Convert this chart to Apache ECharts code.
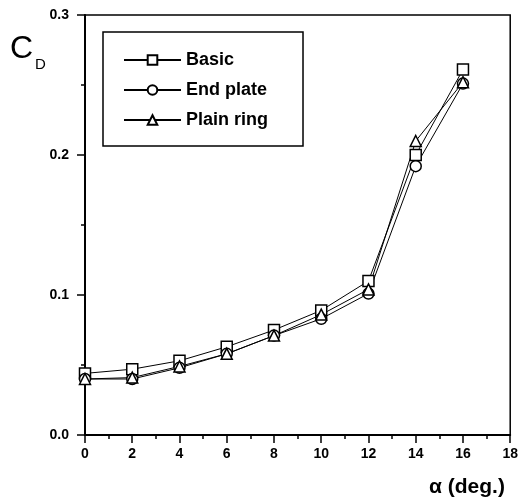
<!DOCTYPE html>
<html>
<head>
<meta charset="utf-8">
<script src="https://cdn.jsdelivr.net/npm/echarts@6/dist/echarts.min.js"></script>
<style>
html, body { margin: 0; padding: 0; background: #fff; }
#chart { width: 521px; height: 501px; }
</style>
</head>
<body>
<div id="chart"></div>
<script>
// angle of attack (deg.)
const alpha = [0, 2, 4, 6, 8, 10, 12, 14, 16];
// drag coefficient per configuration
const basic     = [0.044, 0.047, 0.053, 0.063, 0.075, 0.089, 0.110, 0.200, 0.261];
const endPlate  = [0.040, 0.040, 0.048, 0.058, 0.071, 0.083, 0.101, 0.192, 0.251];
const plainRing = [0.040, 0.041, 0.049, 0.058, 0.071, 0.086, 0.104, 0.210, 0.252];
const seriesNames = ['Basic', 'End plate', 'Plain ring'];

const font = 'Liberation Sans, Arial, sans-serif';

function pairs (ys) {
    return alpha.map((a, i) => [a, ys[i]]);
}

function makeSeries (name, ys, symbol) {
    return {
        name: name,
        type: 'line',
        data: pairs(ys),
        symbol: symbol,
        symbolSize: 11,
        showSymbol: true,
        lineStyle: { color: '#000', width: 1 },
        itemStyle: { color: '#fff', borderColor: '#000', borderWidth: 1.5 },
        emphasis: { disabled: true },
        animation: false
    };
}

const chart = echarts.init(document.getElementById('chart'));
const option = {
    backgroundColor: '#fff',
    grid: {
        left: 85, right: 9, top: 15, bottom: 66,
        show: true,
        borderColor: '#000',
        borderWidth: 1.5
    },
    legend: {
        left: 103, top: 32,
        orient: 'vertical',
        data: seriesNames,
        itemWidth: 57,
        itemHeight: 12,
        itemGap: 12,
        padding: [19, 35, 17, 20],
        borderColor: '#000',
        borderWidth: 1.5,
        textStyle: { color: '#000', fontFamily: font, fontSize: 18, fontWeight: 'bold' }
    },
    xAxis: {
        type: 'value',
        min: 0, max: 18, interval: 2,
        axisLine: { lineStyle: { color: '#000', width: 2 } },
        axisTick: { inside: false, length: 8, lineStyle: { color: '#000', width: 1.5 } },
        minorTick: { show: true, splitNumber: 2, length: 4, lineStyle: { color: '#000', width: 1.5 } },
        splitLine: { show: false },
        axisLabel: { color: '#000', fontFamily: font, fontSize: 14, fontWeight: 'bold', margin: 12 }
    },
    yAxis: {
        type: 'value',
        min: 0, max: 0.3, interval: 0.1,
        axisLine: { show: true, lineStyle: { color: '#000', width: 2 } },
        axisTick: { show: true, inside: false, length: 8, lineStyle: { color: '#000', width: 1.5 } },
        minorTick: { show: true, splitNumber: 2, length: 4, lineStyle: { color: '#000', width: 1.5 } },
        splitLine: { show: false },
        axisLabel: {
            color: '#000', fontFamily: font, fontSize: 14, fontWeight: 'bold', margin: 16,
            formatter: v => v.toFixed(1)
        }
    },
    graphic: [
        { type: 'text', left: 10, top: 33, style: { text: 'C', fontFamily: font, fontSize: 32, fill: '#000' } },
        { type: 'text', left: 35, top: 57, style: { text: 'D', fontFamily: font, fontSize: 15, fill: '#000' } },
        { type: 'text', left: 429, top: 477, style: { text: 'α (deg.)', fontFamily: font, fontSize: 21, fontWeight: 'bold', fill: '#000' } }
    ],
    series: [
        makeSeries('Basic', basic, 'rect'),
        makeSeries('End plate', endPlate, 'circle'),
        makeSeries('Plain ring', plainRing, 'triangle')
    ]
};
chart.setOption(option);
</script>
</body>
</html>
